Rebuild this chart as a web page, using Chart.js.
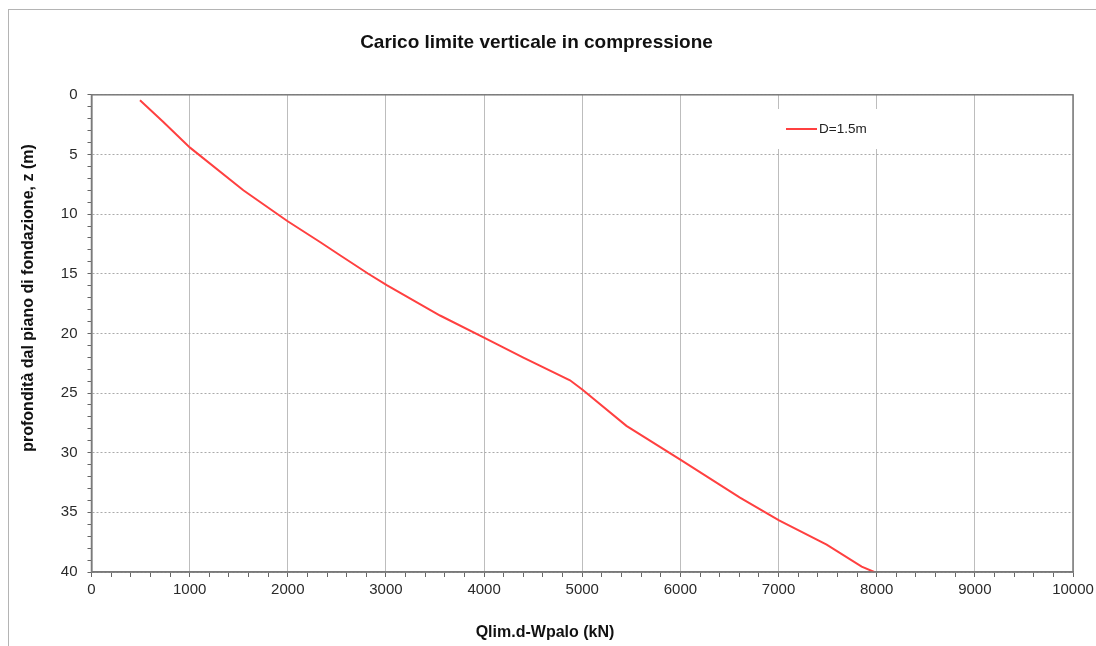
<!DOCTYPE html>
<html lang="it">
<head>
<meta charset="utf-8">
<title>Carico limite verticale in compressione</title>
<script src="https://cdn.jsdelivr.net/npm/chart.js"></script>
<style>
  body { margin: 0; background: #fff; overflow: hidden; }
  #frame { position: absolute; left: 8px; top: 9px; width: 1200px; height: 700px; border: 1px solid #b4b4b4; }
  #wrap { position: absolute; left: 0; top: 0; width: 1096px; height: 646px; }
</style>
</head>
<body>
<div id="frame"></div>
<div id="wrap"><canvas id="chart" width="1096" height="646"></canvas></div>
<script>
const chartTitle = "Carico limite verticale in compressione";
const xTitle = "Qlim.d-Wpalo (kN)";
const yTitle = "profondità dal piano di fondazione, z (m)";
const seriesLabel = "D=1.5m";

// Qlim,d - Wpalo (kN) vs depth z (m)
const load = [494, 732, 1004, 1547, 1995, 2328, 2532, 2820, 3008, 3551, 3999, 4400, 4875, 5000, 5450, 6003, 6607, 7005, 7490, 7847, 7975];
const depth = [0.46, 2.28, 4.43, 8.0, 10.58, 12.34, 13.45, 15.0, 15.95, 18.5, 20.35, 22.03, 23.93, 24.7, 27.75, 30.6, 33.76, 35.67, 37.7, 39.55, 40];

const xTickLabels = ["0", "1000", "2000", "3000", "4000", "5000", "6000", "7000", "8000", "9000", "10000"];
const yTickLabels = ["0", "5", "10", "15", "20", "25", "30", "35", "40"];

const fontFamily = "'Liberation Sans', Arial, sans-serif";

const chartText = {
  id: "chartText",
  afterDraw(chart) {
    const ctx = chart.ctx;
    const area = chart.chartArea;
    const ds = chart.data.datasets[0];
    ctx.save();
    ctx.strokeStyle = "#7a7a7a";
    ctx.lineWidth = 1.5;
    ctx.strokeRect(area.left, area.top, area.right - area.left, area.bottom - area.top);

    // legend box
    ctx.fillStyle = "#fff";
    ctx.fillRect(772, 109, 116, 40);
    ctx.strokeStyle = ds.borderColor;
    ctx.lineWidth = 2;
    ctx.beginPath();
    ctx.moveTo(786, 129);
    ctx.lineTo(817, 129);
    ctx.stroke();
    ctx.fillStyle = "#222";
    ctx.font = "13.5px " + fontFamily;
    ctx.textAlign = "left";
    ctx.textBaseline = "middle";
    ctx.fillText(ds.label, 819, 129);

    // axis titles
    ctx.fillStyle = "#111";
    ctx.font = "bold 16px " + fontFamily;
    ctx.textAlign = "center";
    ctx.fillText(xTitle, 545, 633);
    ctx.translate(29, 298);
    ctx.rotate(-Math.PI / 2);
    ctx.fillText(yTitle, 0, 0);
    ctx.restore();
  }
};

const ctx = document.getElementById("chart").getContext("2d");
new Chart(ctx, {
  type: "scatter",
  data: {
    datasets: [{
      label: seriesLabel,
      data: load.map((q, i) => ({ x: q, y: depth[i] })),
      showLine: true,
      borderColor: "rgb(255, 64, 64)",
      borderWidth: 2,
      pointRadius: 0,
      tension: 0,
    }]
  },
  options: {
    responsive: false,
    animation: false,
    layout: { padding: { left: 0, top: 0, right: 23, bottom: 0 } },
    plugins: {
      legend: { display: false },
      tooltip: { enabled: false },
      title: {
        display: true,
        text: chartTitle,
        color: "#111",
        font: { family: fontFamily, size: 19, weight: "bold" },
        padding: { top: 31, bottom: 41 },
      },
    },
    scales: {
      x: {
        type: "linear",
        min: 0,
        max: 10000,
        afterFit: (s) => { s.height = 74; s.paddingRight = 0; },
        border: { display: true, color: "#777", width: 1.5 },
        grid: {
          color: (c) => (c.tick && c.tick.value % 1000 === 0 ? "#bdbdbd" : "rgba(0,0,0,0)"),
          tickColor: "#666",
          tickLength: 5,
        },
        ticks: {
          stepSize: 200,
          maxTicksLimit: 100,
          autoSkip: false,
          maxRotation: 0,
          padding: 4,
          color: "#2a2a2a",
          font: { family: fontFamily, size: 15 },
          callback: (v) => (v % 1000 === 0 ? xTickLabels[v / 1000] : ""),
        },
      },
      y: {
        type: "linear",
        reverse: true,
        min: 0,
        max: 40,
        afterFit: (s) => { s.width = 91.5; },
        border: { display: true, color: "#777", width: 1.5, dash: [2, 2] },
        grid: {
          color: (c) => (c.tick && c.tick.value % 5 === 0 ? "#aaaaaa" : "rgba(0,0,0,0)"),
          tickColor: "#666",
          tickLength: 4,
        },
        ticks: {
          stepSize: 1,
          maxTicksLimit: 100,
          autoSkip: false,
          padding: 10,
          color: "#2a2a2a",
          font: { family: fontFamily, size: 15 },
          callback: (v) => (v % 5 === 0 ? yTickLabels[v / 5] : ""),
        },
      },
    },
  },
  plugins: [chartText],
});
</script>
</body>
</html>
